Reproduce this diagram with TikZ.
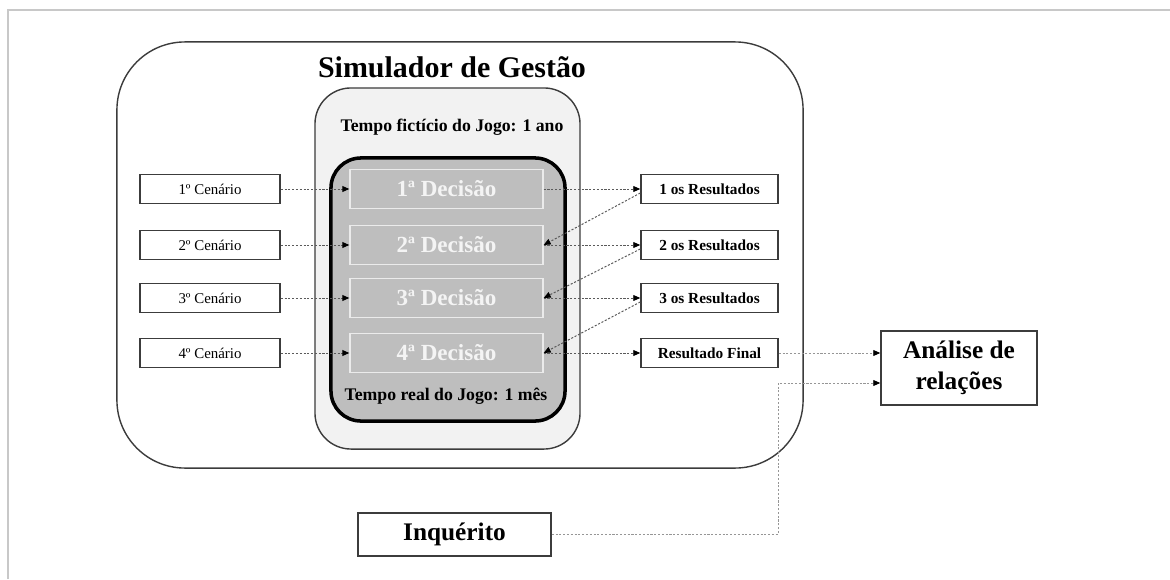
\documentclass[tikz,border=0pt]{standalone}
\usepackage{fontspec}
\setmainfont{Liberation Serif}
\usetikzlibrary{positioning}
\usetikzlibrary{arrows.meta}
\definecolor{framegray}{RGB}{200,200,200}
\definecolor{boxline}{RGB}{60,60,60}
\definecolor{lightfill}{RGB}{242,242,242}
\definecolor{darkfill}{RGB}{190,190,190}
\definecolor{decline}{RGB}{235,235,235}
\definecolor{dectext}{RGB}{244,244,244}
\definecolor{dashgray}{RGB}{90,90,90}
\definecolor{linkgray}{RGB}{150,150,150}

\begin{document}
\begin{tikzpicture}[x=0.025cm, y=-0.025cm, every node/.style={align=center, inner sep=0pt},
    smallbox/.style={draw=boxline, line width=1pt, fill=white, minimum height=0.725cm},
    cenbox/.style={smallbox, minimum width=3.5cm, font=\fontsize{10.6}{12}\selectfont},
    resbox/.style={smallbox, minimum width=3.425cm, font=\bfseries\fontsize{10.9}{12}\selectfont},
    decbox/.style={draw=decline, fill=darkfill, line width=0.9pt, minimum width=4.825cm, minimum height=0.975cm, text=dectext, font=\bfseries\fontsize{16.4}{18}\selectfont},
    bigbox/.style={draw=boxline, line width=1pt, font=\bfseries\fontsize{18}{22}\selectfont},
    link/.style={draw=dashgray, line width=0.7pt, dash pattern=on 1.5pt off 1.2pt, -{Triangle[length=5pt,width=4.2pt,color=black]}},
    farlink/.style={link, draw=linkgray}]

        \useasboundingbox (0,0) rectangle (1170,579);
        \draw[framegray, line width=1pt] (8,579) -- (8,10) -- (1170,10);

        % Simulator and game-time boxes
        \node[draw=boxline, line width=1pt, rounded corners=1.7cm, minimum width=17.15cm, minimum height=10.65cm] (sim) at (460,255) {};
        \node[font=\bfseries\fontsize{21.3}{24}\selectfont] (simtitle) at (452,67) {Simulador de Gestão};
        \node[draw=boxline, fill=lightfill, line width=1pt, rounded corners=0.9cm, minimum width=6.625cm, minimum height=9.025cm] (ficbox) at (447.5,268.5) {};
        \node[font=\bfseries\fontsize{12.6}{14}\selectfont] (ficlabel) at (452,127) {Tempo fictício do Jogo: 1 ano};
        \node[draw=black, fill=darkfill, line width=2.5pt, rounded corners=0.75cm, minimum width=5.85cm, minimum height=6.575cm] (realbox) at (448,289.5) {};
        \node[font=\bfseries\fontsize{12.6}{14}\selectfont] (reallabel) at (446,396) {Tempo real do Jogo: 1 mês};

        % Rows
        \foreach \i/\y in {1/189,2/245,3/298,4/353} {
            \node[cenbox] (cen\i) at (210,\y) {{\i}º Cenário};
            \node[decbox] (dec\i) at (446.5,\y) {{\i}ª Decisão};
            \draw[link] (cen\i) -- (dec\i);
        }
        \foreach \i/\y in {1/189,2/245,3/298} {
            \node[resbox] (res\i) at (709.5,\y) {\i{} os Resultados};
        }
        \node[resbox] (res4) at (709.5,353) {Resultado Final};
        \foreach \i in {1,...,4} {
            \draw[link] (dec\i) -- (res\i);
        }
        \foreach \i/\j in {1/2,2/3,3/4} {
            \draw[link] ([yshift=-0.1cm]res\i.west) -- (dec\j.east);
        }

        % Analysis and survey
        \node[bigbox, minimum width=3.9cm, minimum height=1.85cm] (analise) at (959,368) {Análise de\\relações};
        \node[bigbox, minimum width=4.825cm, minimum height=1.075cm] (inq) at (454.5,534.5) {Inquérito};
        \coordinate (bend) at (778,383);
        \draw[farlink] (res4.east) -- (res4.east -| analise.west);
        \draw[farlink] (inq.east) -| (bend) -- (bend -| analise.west);

    \end{tikzpicture}
\end{document}
